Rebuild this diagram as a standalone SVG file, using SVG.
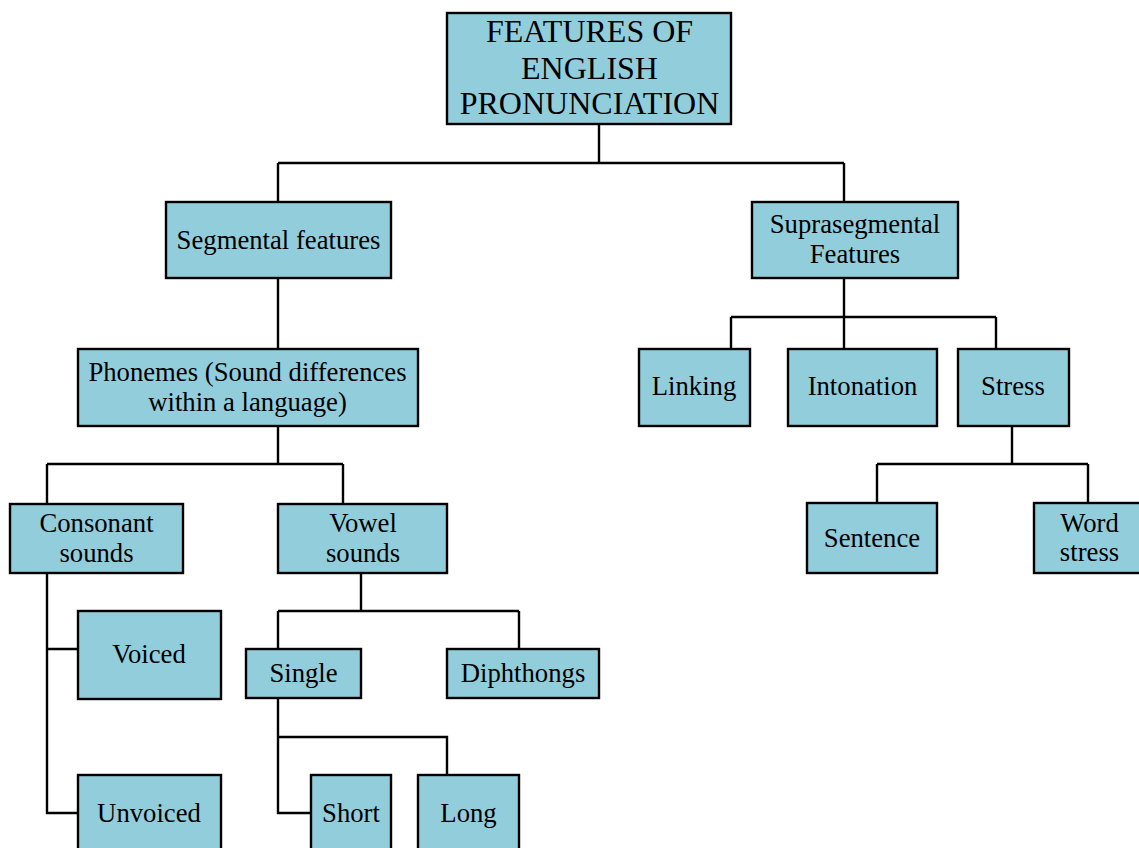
<svg xmlns="http://www.w3.org/2000/svg" width="1139" height="848" viewBox="0 0 1139 848">
<style>
.box{fill:#92CDDC;stroke:#000;stroke-width:2.4}
.t{font-family:"Liberation Serif","Times New Roman",serif;font-size:26.7px;fill:#000;text-anchor:middle}
.title{font-size:32px}
.c{fill:none;stroke:#000;stroke-width:2.4}
</style>
<rect width="1139" height="848" fill="#fff"/>
<g id="connectors" class="c">
<path d="M599 124V163M278 163H844M278 163V202M844 163V202"/>
<path d="M278 278V349"/>
<path d="M278 426V464M47 464H343M47 464V504M343 464V504"/>
<path d="M47 573V813H78M47 649H78"/>
<path d="M361 573V611M278 611H519M278 611V649M519 611V649"/>
<path d="M278 698V813H311M278 737H447V775"/>
<path d="M844 278V317M731 317H996M731 317V349M844 317V349M996 317V349"/>
<path d="M1012 426V464M877 464H1088M877 464V503M1088 464V503"/>
</g>
<g id="title"><rect class="box" x="447" y="13" width="284" height="111"/><text class="t title" x="589.5" y="42">FEATURES OF</text><text class="t title" x="589.5" y="79">ENGLISH</text><text class="t title" x="589.5" y="114">PRONUNCIATION</text></g>
<g id="segmental"><rect class="box" x="166" y="202" width="225" height="76"/><text class="t" x="278.5" y="249">Segmental features</text></g>
<g id="suprasegmental"><rect class="box" x="752" y="202" width="206" height="76"/><text class="t" x="855" y="233">Suprasegmental</text><text class="t" x="855" y="263">Features</text></g>
<g id="phonemes"><rect class="box" x="78" y="349" width="340" height="77"/><text class="t" x="247.5" y="381">Phonemes (Sound differences</text><text class="t" x="247.5" y="411">within a language)</text></g>
<g id="linking"><rect class="box" x="639" y="349" width="111" height="77"/><text class="t" x="694" y="395">Linking</text></g>
<g id="intonation"><rect class="box" x="788" y="349" width="149" height="77"/><text class="t" x="862.5" y="395">Intonation</text></g>
<g id="stress"><rect class="box" x="958" y="349" width="111" height="77"/><text class="t" x="1013" y="395">Stress</text></g>
<g id="consonant"><rect class="box" x="10" y="504" width="173" height="69"/><text class="t" x="96.5" y="532">Consonant</text><text class="t" x="96.5" y="562">sounds</text></g>
<g id="vowel"><rect class="box" x="278" y="504" width="169" height="69"/><text class="t" x="363" y="532">Vowel</text><text class="t" x="363" y="562">sounds</text></g>
<g id="sentence"><rect class="box" x="807" y="503" width="130" height="70"/><text class="t" x="872" y="547">Sentence</text></g>
<g id="wordstress"><rect class="box" x="1034" y="503" width="111" height="70"/><text class="t" x="1089.5" y="532">Word</text><text class="t" x="1089.5" y="561">stress</text></g>
<g id="voiced"><rect class="box" x="78" y="611" width="143" height="88"/><text class="t" x="149" y="663">Voiced</text></g>
<g id="single"><rect class="box" x="246" y="649" width="115" height="49"/><text class="t" x="303.5" y="682">Single</text></g>
<g id="diphthongs"><rect class="box" x="447" y="649" width="152" height="49"/><text class="t" x="523" y="682">Diphthongs</text></g>
<g id="unvoiced"><rect class="box" x="78" y="775" width="143" height="85"/><text class="t" x="149" y="822">Unvoiced</text></g>
<g id="short"><rect class="box" x="311" y="775" width="80" height="85"/><text class="t" x="351" y="822">Short</text></g>
<g id="long"><rect class="box" x="418" y="775" width="101" height="85"/><text class="t" x="468.5" y="822">Long</text></g>
</svg>
